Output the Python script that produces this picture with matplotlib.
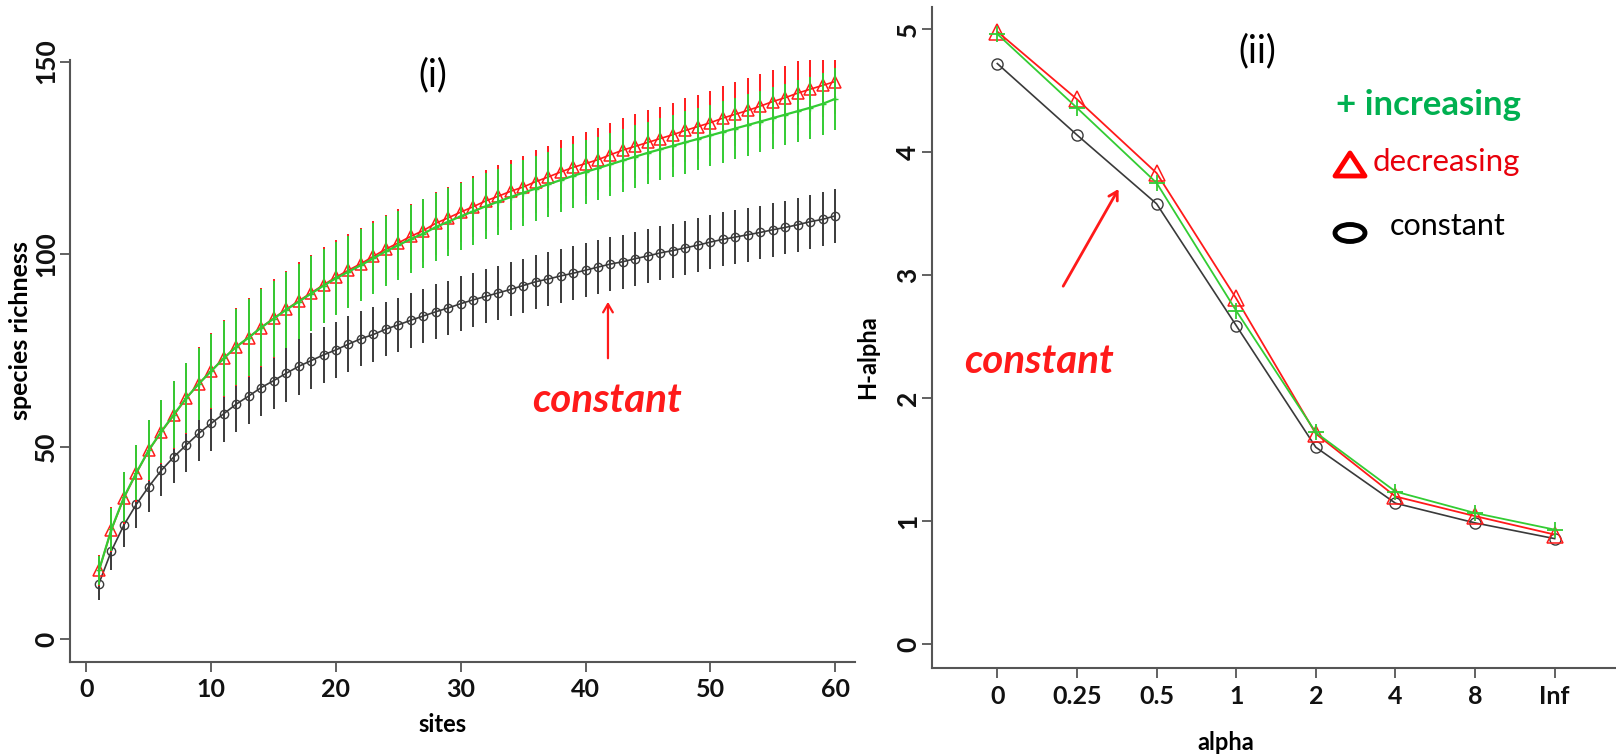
import numpy as np
import matplotlib.pyplot as plt
from matplotlib.patches import Ellipse, Polygon

plt.rcParams['font.family'] = ['Lato', 'DejaVu Sans']

# species accumulation over sites
sites = np.arange(1, 61)

constant = [14.4, 22.9, 29.6, 35.0, 39.6, 43.8, 47.3, 50.4, 53.4, 56.0,
            58.5, 61.0, 63.1, 65.3, 67.1, 69.0, 70.8, 72.3, 73.8, 75.1,
            76.6, 78.0, 79.1, 80.5, 81.6, 82.8, 83.9, 85.0, 86.0, 87.1,
            88.1, 89.0, 89.9, 90.8, 91.8, 92.8, 93.5, 94.3, 95.0, 95.8,
            96.6, 97.4, 98.0, 98.8, 99.5, 100.3, 100.9, 101.6, 102.3, 103.1,
            103.8, 104.4, 105.0, 105.6, 106.3, 106.9, 107.6, 108.4, 109.0, 109.9]
constant_sd = [4.2, 5.0, 5.7, 6.1, 6.5, 6.7, 6.9, 7.0, 7.1, 7.2,
               7.2, 7.3, 7.3, 7.3, 7.4, 7.4, 7.4, 7.3, 7.3, 7.2,
               7.2, 7.2, 7.1, 7.1, 7.1, 7.1, 7.1, 7.1, 7.1, 7.1,
               7.0, 7.0, 7.0, 7.0, 7.0, 7.0, 7.0, 7.0, 7.0, 7.0,
               7.0, 7.0, 7.0, 7.0, 7.0, 7.0, 7.0, 7.0, 7.0, 7.0,
               7.0, 7.0, 7.0, 7.0, 7.0, 7.0, 7.0, 7.0, 7.0, 7.0]

decreasing = [17.8, 28.4, 36.6, 43.1, 49.0, 53.8, 58.1, 62.5, 66.3, 69.6,
              72.9, 75.9, 78.3, 80.9, 83.3, 85.6, 87.8, 89.9, 92.0, 94.0,
              95.8, 97.5, 99.4, 101.3, 102.9, 104.6, 106.1, 108.0, 109.4, 110.9,
              112.3, 113.8, 115.0, 116.3, 117.4, 118.8, 120.0, 121.3, 122.5, 123.5,
              124.5, 125.8, 127.0, 128.0, 129.0, 130.0, 131.0, 132.1, 133.1, 134.1,
              135.3, 136.3, 137.3, 138.4, 139.6, 140.6, 141.8, 142.8, 143.8, 144.8]
decreasing_sd = [4.0, 5.8, 6.7, 7.4, 7.9, 8.4, 8.8, 9.2, 9.5, 9.8,
                 10.0, 10.1, 10.2, 10.2, 10.2, 10.1, 10.0, 9.9, 9.8, 9.7,
                 9.5, 9.3, 9.1, 8.9, 8.7, 8.5, 8.3, 8.2, 8.0, 7.9,
                 7.9, 7.9, 8.0, 8.0, 8.0, 8.1, 8.1, 8.2, 8.2, 8.3,
                 8.3, 8.3, 8.3, 8.3, 8.3, 8.3, 8.3, 8.3, 8.3, 8.3,
                 8.3, 8.3, 8.3, 8.3, 8.3, 8.3, 8.3, 8.3, 8.3, 8.3]

increasing = [17.8, 28.5, 36.8, 43.2, 49.1, 53.9, 58.3, 62.6, 66.3, 69.6,
              72.9, 75.9, 78.3, 80.9, 83.2, 85.5, 87.6, 89.7, 91.8, 93.7,
              95.4, 97.1, 98.9, 100.7, 102.3, 103.9, 105.3, 107.0, 108.4, 109.8,
              111.1, 112.4, 113.6, 114.8, 115.9, 117.0, 118.1, 119.2, 120.3, 121.3,
              122.3, 123.3, 124.3, 125.3, 126.3, 127.2, 128.1, 129.0, 129.9, 130.8,
              131.7, 132.6, 133.5, 134.4, 135.3, 136.2, 137.1, 138.0, 139.0, 140.3]
increasing_sd = [3.8, 5.6, 6.5, 7.2, 7.7, 8.2, 8.6, 9.0, 9.3, 9.5,
                 9.7, 9.8, 9.9, 9.9, 9.9, 9.9, 9.8, 9.7, 9.6, 9.5,
                 9.4, 9.3, 9.2, 9.1, 9.0, 8.9, 8.9, 8.8, 8.8, 8.7,
                 8.7, 8.6, 8.6, 8.5, 8.5, 8.4, 8.4, 8.3, 8.3, 8.2,
                 8.2, 8.2, 8.2, 8.1, 8.1, 8.1, 8.1, 8.1, 8.1, 8.0,
                 8.0, 8.0, 8.0, 8.0, 8.0, 8.0, 8.0, 8.0, 8.0, 8.0]

# Renyi diversity profile
alpha_labels = ['0', '0.25', '0.5', '1', '2', '4', '8', 'Inf']
h_decreasing = [4.98, 4.43, 3.83, 2.81, 1.71, 1.20, 1.04, 0.89]
h_increasing = [4.96, 4.36, 3.75, 2.71, 1.72, 1.24, 1.065, 0.93]
h_constant = [4.72, 4.14, 3.58, 2.59, 1.60, 1.145, 0.985, 0.857]

RED = '#ff1a1a'
GREEN = '#33cc33'
BLACK = '#3a3a3a'
AXIS = '#555555'

W, H = 1616, 754
fig = plt.figure(figsize=(W / 100, H / 100), dpi=100)


def style_axes(ax):
    for s in ['top', 'right']:
        ax.spines[s].set_visible(False)
    for s in ['left', 'bottom']:
        ax.spines[s].set_color(AXIS)
        ax.spines[s].set_linewidth(1.5)
    ax.tick_params(direction='out', length=7.5, width=1.3, color=AXIS,
                   labelcolor='#111111')


def bold_ticks(ax, xsize, ysize):
    for lab in ax.get_xticklabels():
        lab.set_fontweight('bold')
        lab.set_fontsize(xsize)
    for lab in ax.get_yticklabels():
        lab.set_fontweight('bold')
        lab.set_fontsize(ysize)
        lab.set_rotation(90)
        lab.set_va('center')


# ---- (i) species richness ----
ax1 = fig.add_axes([70 / W, 1 - 661.7 / H, 785 / W, 601.7 / H])
style_axes(ax1)

ax1.errorbar(sites, constant, yerr=constant_sd, fmt='none', ecolor=BLACK,
             elinewidth=1.4, capsize=0)
ax1.plot(sites, constant, color=BLACK, lw=1.2, marker='o', ms=6,
         mfc='none', mec=BLACK, mew=1.0)
ax1.errorbar(sites, decreasing, yerr=decreasing_sd, fmt='none', ecolor=RED,
             elinewidth=1.4, capsize=0)
ax1.plot(sites, decreasing, color=RED, lw=1.2, marker='^', ms=8,
         mfc='none', mec=RED, mew=1.1)
ax1.errorbar(sites, increasing, yerr=increasing_sd, fmt='none', ecolor=GREEN,
             elinewidth=1.4, capsize=0)
ax1.plot(sites, increasing, color=GREEN, lw=1.6, marker='+', ms=4,
         mec=GREEN, mew=1.0)

ax1.set_xlim(-1.32, 61.6)
ax1.set_ylim(-5.9, 150.4)
ax1.set_xticks([0, 10, 20, 30, 40, 50, 60])
ax1.set_yticks([0, 50, 100, 150])
ax1.tick_params(axis='x', pad=4)
ax1.tick_params(axis='y', pad=1)
bold_ticks(ax1, 18, 19)
ax1.set_xlabel('sites', fontsize=17, fontweight='bold')
ax1.xaxis.set_label_coords(0.475, -0.085)
ax1.set_ylabel('species richness', fontsize=18, fontweight='bold')
ax1.yaxis.set_label_coords(-0.049, 0.55)

ax1.text(27.8, 146.5, '(i)', fontsize=27, ha='center', va='center')
ax1.annotate('', xy=(41.8, 88.3), xytext=(41.8, 72.2),
             arrowprops=dict(arrowstyle='->,head_length=0.6,head_width=0.35',
                             color=RED, lw=1.6))
ax1.text(41.7, 62.0, 'constant', color=RED, fontsize=29, fontweight='bold',
         style='italic', ha='center', va='center')

# ---- (ii) H-alpha profile ----
ax2 = fig.add_axes([931.7 / W, 1 - 668 / H, 684.3 / W, 661 / H])
style_axes(ax2)
pos = np.arange(1, len(alpha_labels) + 1)

ax2.plot(pos, h_constant, color=BLACK, lw=1.2, marker='o', ms=8,
         mfc='none', mec=BLACK, mew=1.0)
ax2.plot(pos, h_decreasing, color=RED, lw=1.3, marker='^', ms=11,
         mfc='none', mec=RED, mew=1.1)
ax2.plot(pos, h_increasing, color=GREEN, lw=1.3, marker='+', ms=12,
         mec=GREEN, mew=1.3)

ax2.set_xlim(0.176, 8.77)
ax2.set_ylim(-0.195, 5.18)
ax2.set_xticks(pos)
ax2.set_xticklabels(alpha_labels)
ax2.set_yticks([0, 1, 2, 3, 4, 5])
ax2.tick_params(axis='x', pad=5)
ax2.tick_params(axis='y', pad=1)
bold_ticks(ax2, 18, 19)
ax2.set_xlabel('alpha', fontsize=17, fontweight='bold')
ax2.xaxis.set_label_coords(0.43, -0.095)
ax2.set_ylabel('H-alpha', fontsize=17, fontweight='bold')
ax2.yaxis.set_label_coords(-0.077, 0.47)

ax2.text(4.26, 4.82, '(ii)', fontsize=27, ha='center', va='center')
ax2.annotate('', xy=(2.54, 3.72), xytext=(1.81, 2.89),
             arrowprops=dict(arrowstyle='->,head_length=0.6,head_width=0.35',
                             color=RED, lw=2.0))
ax2.text(1.52, 2.30, 'constant', color=RED, fontsize=29, fontweight='bold',
         style='italic', ha='center', va='center')

# hand-made key for panel (ii)
fig.text(1336 / W, 1 - 105 / H, '+ increasing', color='#00b050',
         fontsize=25, fontweight='bold', ha='left', va='center')
fig.add_artist(Polygon([[1335 / W, 1 - 176 / H], [1365 / W, 1 - 176 / H],
                        [1350 / W, 1 - 153 / H]], closed=True, fill=False,
                       edgecolor='#ff0000', lw=3.5, joinstyle='round',
                       transform=fig.transFigure))
fig.text(1373 / W, 1 - 162 / H, 'decreasing', color='#e8000b',
         fontsize=22.5, ha='left', va='center')
fig.add_artist(Ellipse((1350 / W, 1 - 233 / H), 30 / W, 17 / H, fill=False,
                       edgecolor='black', lw=3.5, transform=fig.transFigure))
fig.text(1390 / W, 1 - 226 / H, 'constant', color='black',
         fontsize=22, ha='left', va='center')

fig.savefig('out.png', dpi=100, facecolor='white')
